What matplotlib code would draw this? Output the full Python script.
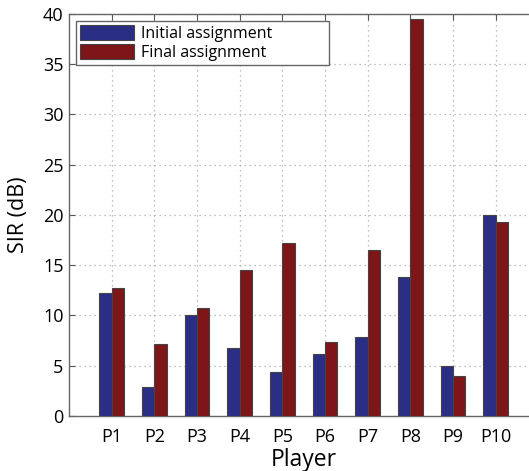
import numpy as np
import matplotlib
matplotlib.use('Agg')
import matplotlib.pyplot as plt

# SIR per player
players = ['P1', 'P2', 'P3', 'P4', 'P5', 'P6', 'P7', 'P8', 'P9', 'P10']
initial = [12.2, 2.9, 10.05, 6.8, 4.4, 6.2, 7.85, 13.8, 5.0, 20.0]
final = [12.75, 7.2, 10.7, 14.5, 17.2, 7.35, 16.5, 39.5, 4.0, 19.3]

plt.rcParams['font.family'] = ['Open Sans', 'DejaVu Sans']

fig = plt.figure(figsize=(5.29, 4.71), dpi=100)
ax = fig.add_axes([0.1304, 0.1168, 0.887, 0.8535])

x = np.arange(1, len(players) + 1)
w = 0.29
ax.bar(x - w/2, initial, w, color='#2b2e85', edgecolor='#444444', linewidth=0.8,
       label='Initial assignment', zorder=3)
ax.bar(x + w/2, final, w, color='#7e1518', edgecolor='#444444', linewidth=0.8,
       label='Final assignment', zorder=3)

ax.set_xlim(0, 11)
ax.set_ylim(0, 40)
ax.set_xticks(x)
ax.set_xticklabels(players)
ax.set_yticks(np.arange(0, 41, 5))
ax.tick_params(direction='in', top=True, right=True, labelsize=13,
               color='#555555', length=4)
ax.tick_params(axis='x', pad=9)
ax.tick_params(axis='y', pad=4)
ax.grid(True, linestyle=(0, (1, 3)), color='#aaaaaa', linewidth=0.9, zorder=0)
for s in ax.spines.values():
    s.set_color('#666666')
    s.set_linewidth(1.0)

ax.set_xlabel('Player', fontsize=16.5, labelpad=1)
ax.set_ylabel('SIR (dB)', fontsize=15.5, labelpad=10)

leg = ax.legend(loc='upper left', bbox_to_anchor=(0.015, 0.880, 0.539, 0.103),
                mode='expand', fontsize=11.5, handlelength=3.4, handleheight=1.1,
                fancybox=False, framealpha=1, edgecolor='#666666',
                borderpad=0.25, labelspacing=0.1, handletextpad=0.4,
                borderaxespad=0)
leg.get_frame().set_linewidth(1.0)

fig.savefig('out.png', dpi=100)
